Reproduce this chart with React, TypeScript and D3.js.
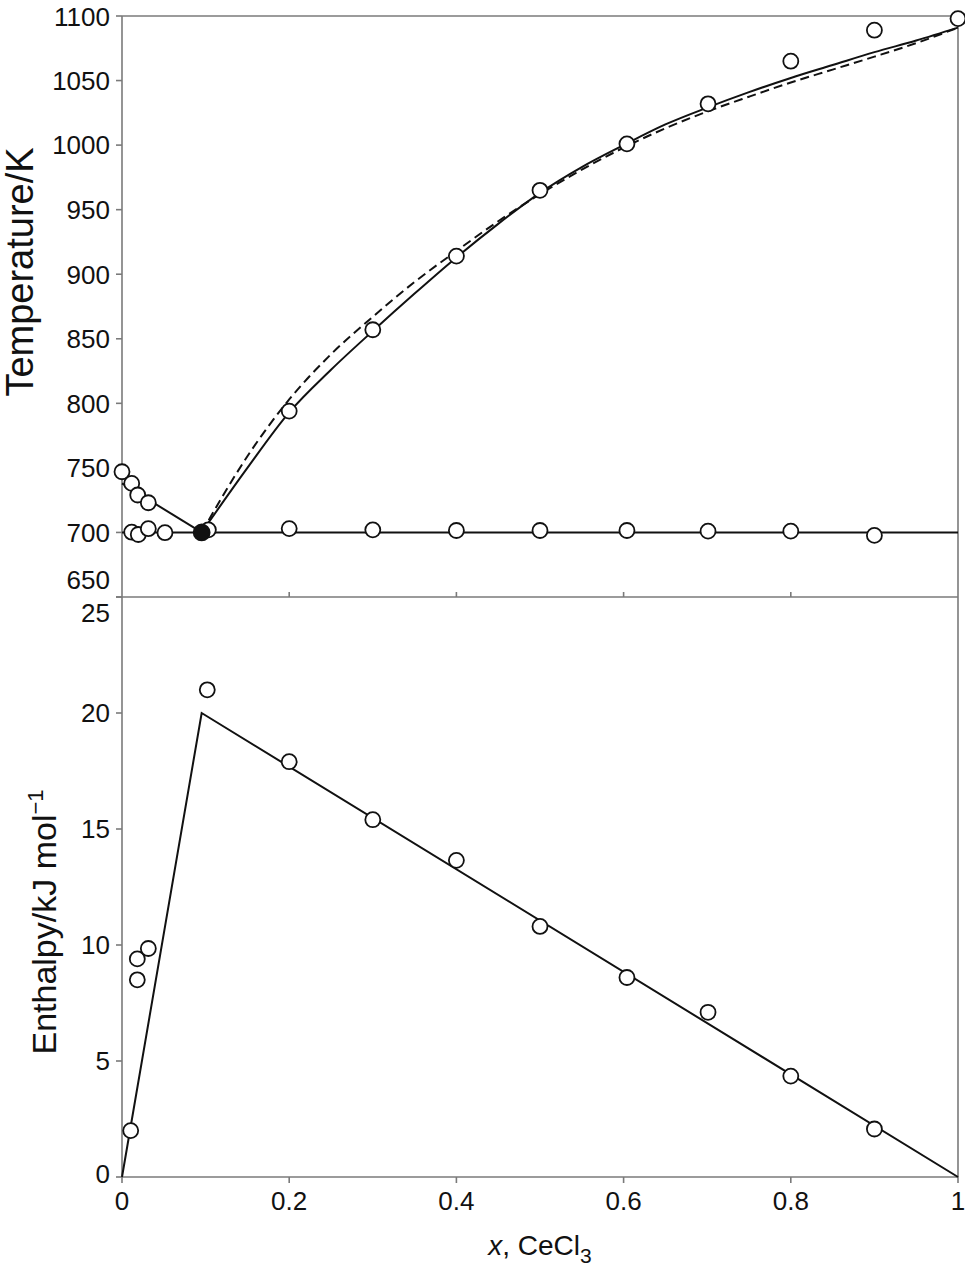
import React from "react";
import * as d3 from "d3";

// ---- data ----
const xTicks = [0, 0.2, 0.4, 0.6, 0.8, 1];
const xTickLabels = ["0", "0.2", "0.4", "0.6", "0.8", "1"];
const tTicks = [650, 700, 750, 800, 850, 900, 950, 1000, 1050, 1100];
const hTicks = [0, 5, 10, 15, 20, 25];

// liquidus measurements (open circles)
const liqX = [0, 0.0116, 0.0188, 0.0315, 0.2, 0.3, 0.4, 0.5, 0.604, 0.701, 0.8, 0.9, 1.0];
const liqT = [747, 738, 729, 723, 794, 857, 914, 965, 1001, 1032, 1065, 1089, 1098];

// eutectic arrest measurements (open circles)
const eutX = [0.0116, 0.0195, 0.0315, 0.0514, 0.1033, 0.2, 0.3, 0.4, 0.5, 0.604, 0.701, 0.8, 0.9];
const eutT = [700.2, 698.4, 702.9, 699.8, 702, 703, 702, 701.5, 701.5, 701.5, 701, 701, 697.7];

// eutectic point (filled)
const eutecticX = 0.0953;
const eutecticT = 700;

// left liquidus branch
const leftLineX = [0, 0.0953];
const leftLineT = [738, 700];

// right liquidus branch, solid model
const solidX = [0.0953, 0.15, 0.2, 0.25, 0.3, 0.35, 0.4, 0.45, 0.5, 0.55, 0.6, 0.65, 0.7, 0.75, 0.8, 0.85, 0.9, 0.95, 1.0];
const solidT = [700, 750, 793, 826, 856, 885, 913, 939, 963, 983, 1000, 1016, 1029, 1041, 1052, 1062, 1072, 1081, 1091];

// right liquidus branch, dashed model
const dashX = [0.0953, 0.15, 0.2, 0.25, 0.3, 0.35, 0.4, 0.45, 0.5, 0.55, 0.6, 0.65, 0.7, 0.75, 0.8, 0.85, 0.9, 0.95, 1.0];
const dashT = [700, 759, 803, 838, 867, 894, 918, 941, 962, 981, 998, 1013, 1026, 1037.5, 1048.5, 1058.5, 1068.5, 1079, 1091];

// eutectic horizontal
const eutLineX = [0, 1];
const eutLineT = [700, 700];

// enthalpy measurements
const enthX = [0.0104, 0.0183, 0.0183, 0.0315, 0.102, 0.2, 0.3, 0.4, 0.5, 0.604, 0.701, 0.8, 0.9];
const enthH = [2.0, 8.5, 9.4, 9.85, 21.0, 17.9, 15.4, 13.65, 10.8, 8.6, 7.1, 4.35, 2.07];

// enthalpy model line
const enthLineX = [0, 0.0953, 1];
const enthLineH = [0, 20, 0];

const W = 965;
const H = 1274;
const FONT = "'Liberation Sans', Arial, Helvetica, sans-serif";
const AXIS = "#7a7a7a";

export default function App() {
  const x = d3.scaleLinear().domain([0, 1]).range([122, 958]);
  const yT = d3.scaleLinear().domain([650, 1100]).range([597, 16]);
  const yH = d3.scaleLinear().domain([0, 25]).range([1177, 597]);

  const lineT = d3
    .line<[number, number]>()
    .x((d) => x(d[0]))
    .y((d) => yT(d[1]));
  const curveT = d3
    .line<[number, number]>()
    .x((d) => x(d[0]))
    .y((d) => yT(d[1]))
    .curve(d3.curveMonotoneX);
  const lineH = d3
    .line<[number, number]>()
    .x((d) => x(d[0]))
    .y((d) => yH(d[1]));

  const zip = (a: number[], b: number[]) => a.map((v, i) => [v, b[i]] as [number, number]);

  const x0 = x(0);
  const x1 = x(1);
  const yTop = yT(1100);
  const yMid = yT(650);
  const yBot = yH(0);

  const tLabelY = (t: number) => (t === 650 ? yT(t) - 17 : t === 1100 ? yT(t) + 1 : yT(t));
  const hLabelY = (h: number) => (h === 25 ? yH(h) + 16 : h === 0 ? yH(h) - 3 : yH(h));

  return (
    <svg
      width={W}
      height={H}
      style={{ position: "absolute", left: 0, top: 0, background: "#fff" }}
      fontFamily={FONT}
    >
      <rect x={0} y={0} width={W} height={H} fill="#fff" />

      {/* frame */}
      <g stroke={AXIS} strokeWidth={1.6} fill="none">
        <line x1={x0} x2={x1} y1={yTop} y2={yTop} />
        <line x1={x1} x2={x1} y1={yTop} y2={yBot} />
        <line x1={x0} x2={x1} y1={yMid} y2={yMid} />
        <line x1={x0} x2={x1} y1={yBot} y2={yBot} />
        <line x1={x0} x2={x0} y1={yTop} y2={yBot} />
        {tTicks.map((t) => (
          <line key={"tt" + t} x1={x0 - 6} x2={x0} y1={yT(t)} y2={yT(t)} />
        ))}
        {hTicks.map((h) => (
          <line key={"ht" + h} x1={x0 - 6} x2={x0} y1={yH(h)} y2={yH(h)} />
        ))}
        {xTicks.map((v) => (
          <line key={"xb" + v} x1={x(v)} x2={x(v)} y1={yBot} y2={yBot + 6} />
        ))}
        {xTicks.slice(1, -1).map((v) => (
          <line key={"xm" + v} x1={x(v)} x2={x(v)} y1={yMid} y2={yMid - 5} />
        ))}
      </g>

      {/* tick labels */}
      <g fontSize={26} fill="#111">
        {tTicks.map((t) => (
          <text key={"tl" + t} x={110} y={tLabelY(t)} dy="0.36em" textAnchor="end">
            {t}
          </text>
        ))}
        {hTicks.map((h) => (
          <text key={"hl" + h} x={110} y={hLabelY(h)} dy="0.36em" textAnchor="end">
            {h}
          </text>
        ))}
        {xTicks.map((v, i) => (
          <text key={"xl" + v} x={x(v)} y={1210} textAnchor="middle">
            {xTickLabels[i]}
          </text>
        ))}
      </g>

      {/* axis titles */}
      <text x={540} y={1255} fontSize={28} textAnchor="middle" fill="#111">
        <tspan fontStyle="italic">x</tspan>, CeCl
        <tspan fontSize={21} dy={8}>3</tspan>
      </text>
      <text transform={`translate(33,272) rotate(-90)`} fontSize={38} textAnchor="middle" fill="#111">
        Temperature/K
      </text>
      <text transform={`translate(56,922) rotate(-90)`} fontSize={34} textAnchor="middle" fill="#111">
        Enthalpy/kJ mol
        <tspan fontSize={22} dy={-13}>−1</tspan>
      </text>

      {/* top panel lines */}
      <g fill="none" stroke="#111" strokeWidth={2}>
        <path d={lineT(zip(eutLineX, eutLineT)) || ""} />
        <path d={lineT(zip(leftLineX, leftLineT)) || ""} />
        <path d={curveT(zip(solidX, solidT)) || ""} />
        <path d={curveT(zip(dashX, dashT)) || ""} strokeDasharray="9,5" />
      </g>

      {/* top panel points */}
      <g fill="#fff" stroke="#111" strokeWidth={1.8}>
        {eutX.map((v, i) => (
          <circle key={"e" + i} cx={x(v)} cy={yT(eutT[i])} r={7.5} />
        ))}
        {liqX.map((v, i) => (
          <circle key={"l" + i} cx={x(v)} cy={yT(liqT[i])} r={7.5} />
        ))}
        <circle cx={x(eutecticX)} cy={yT(eutecticT)} r={8} fill="#111" />
      </g>

      {/* bottom panel */}
      <path d={lineH(zip(enthLineX, enthLineH)) || ""} fill="none" stroke="#111" strokeWidth={2} />
      <g fill="#fff" stroke="#111" strokeWidth={1.8}>
        {enthX.map((v, i) => (
          <circle key={"h" + i} cx={x(v)} cy={yH(enthH[i])} r={7.5} />
        ))}
      </g>
    </svg>
  );
}
